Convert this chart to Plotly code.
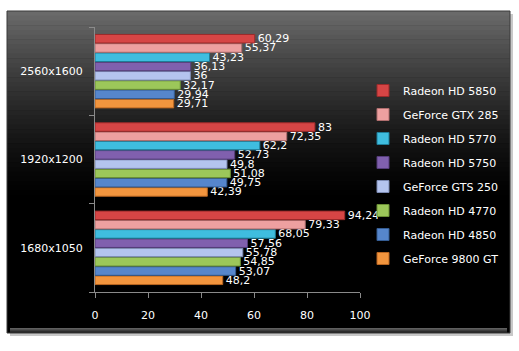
import plotly.graph_objects as go

categories = ["1680x1050", "1920x1200", "2560x1600"]
series_names = ["Radeon HD 5850", "GeForce GTX 285", "Radeon HD 5770", "Radeon HD 5750",
                "GeForce GTS 250", "Radeon HD 4770", "Radeon HD 4850", "GeForce 9800 GT"]
values = {
    "Radeon HD 5850": [94.24, 83, 60.29],
    "GeForce GTX 285": [79.33, 72.35, 55.37],
    "Radeon HD 5770": [68.05, 62.2, 43.23],
    "Radeon HD 5750": [57.56, 52.73, 36.13],
    "GeForce GTS 250": [55.78, 49.8, 36],
    "Radeon HD 4770": [54.85, 51.08, 32.17],
    "Radeon HD 4850": [53.07, 49.75, 29.94],
    "GeForce 9800 GT": [48.2, 42.39, 29.71],
}
colors = {
    "Radeon HD 5850": ("#d64545", "#9a2a2a"),
    "GeForce GTX 285": ("#eda0a0", "#b06e6e"),
    "Radeon HD 5770": ("#3fbddf", "#1f7d98"),
    "Radeon HD 5750": ("#8060ae", "#553d7a"),
    "GeForce GTS 250": ("#b4c4ee", "#7d8bb3"),
    "Radeon HD 4770": ("#9cc75a", "#6a8f35"),
    "Radeon HD 4850": ("#5686cc", "#345c93"),
    "GeForce 9800 GT": ("#f2953e", "#b86520"),
}
x_ticks = [0, 20, 40, 60, 80, 100]

W, H = 519, 351
L, R, T, B = 95, 360, 27, 292

def px(x):
    return (x - L) / (R - L)

def py(y):
    return (B - y) / (B - T)

fig = go.Figure()
for rank, name in reversed(list(enumerate(series_names))):
    v = values[name]
    fig.add_trace(go.Bar(
        y=categories, x=v, orientation="h", name=name,
        marker=dict(color=colors[name][0], line=dict(color=colors[name][1], width=1)),
        text=[f"{a:g}".replace(".", ",") for a in v],
        textposition="outside", constraintext="none", cliponaxis=False,
        textfont=dict(color="white", size=11, family="DejaVu Sans"),
        legendgroup=name, legendrank=rank + 1,
    ))

shapes = []
x0, x1, y0, y1 = 7, 510, 11, 333
shapes.append(dict(type="rect", xref="paper", yref="paper", layer="below",
                   x0=px(x0 + 3), x1=px(x1 + 3), y0=py(y1 + 3), y1=py(y0 + 3),
                   fillcolor="#c8c8c8", line=dict(width=0)))
shapes.append(dict(type="rect", xref="paper", yref="paper", layer="below",
                   x0=px(x0), x1=px(x1), y0=py(y1), y1=py(y0),
                   fillcolor="black", line=dict(width=0)))
nb = 40
gtop, gbot = 11, 200
for i in range(nb):
    a = gtop + (gbot - gtop) * i / nb
    b = gtop + (gbot - gtop) * (i + 1) / nb
    t = (i + 0.5) / nb
    c = int(108 * (1 - t) ** 1.4)
    shapes.append(dict(type="rect", xref="paper", yref="paper", layer="below",
                       x0=px(x0), x1=px(x1), y0=py(b + 0.5), y1=py(a),
                       fillcolor=f"rgb({c},{c},{c})", line=dict(width=0)))
for i, c in enumerate([95, 80, 62, 45, 28]):
    shapes.append(dict(type="rect", xref="paper", yref="paper", layer="below",
                       x0=px(x0 + 3), x1=px(x1 - 3), y0=py(y1 - 5 + i + 1), y1=py(y1 - 5 + i),
                       fillcolor=f"rgb({c},{c},{c})", line=dict(width=0)))
shapes.append(dict(type="rect", xref="paper", yref="paper", layer="below",
                   x0=px(x0), x1=px(x1), y0=py(y1), y1=py(y0),
                   fillcolor="rgba(0,0,0,0)", line=dict(color="#3a3a3a", width=1)))

fig.update_layout(
    width=W, height=H,
    margin=dict(l=L, r=W - R, t=T, b=H - B, autoexpand=False),
    paper_bgcolor="white", plot_bgcolor="rgba(0,0,0,0)",
    barmode="group", bargap=0.16, bargroupgap=0.08,
    font=dict(family="DejaVu Sans", size=11, color="white"),
    shapes=shapes,
    showlegend=True,
    legend=dict(traceorder="grouped",
                x=px(363), y=py(76), xanchor="left", yanchor="top",
                bgcolor="rgba(0,0,0,0)", font=dict(color="white", size=11, family="DejaVu Sans"),
                tracegroupgap=5, itemwidth=30),
    xaxis=dict(range=[0, 100], tickvals=x_ticks, showgrid=False, zeroline=False,
               showline=True, linecolor="#8a8a8a", linewidth=1,
               ticks="outside", ticklen=5, tickcolor="#8a8a8a",
               tickfont=dict(color="white", size=11), fixedrange=True,
               ticklabelstandoff=8),
    yaxis=dict(categoryorder="array", categoryarray=categories, showgrid=False,
               showline=True, linecolor="#8a8a8a", linewidth=1,
               ticks="outside", tickson="boundaries", ticklen=5, tickcolor="#8a8a8a",
               tickfont=dict(color="white", size=11), ticklabelstandoff=9),
)

fig.write_html("out.html")
